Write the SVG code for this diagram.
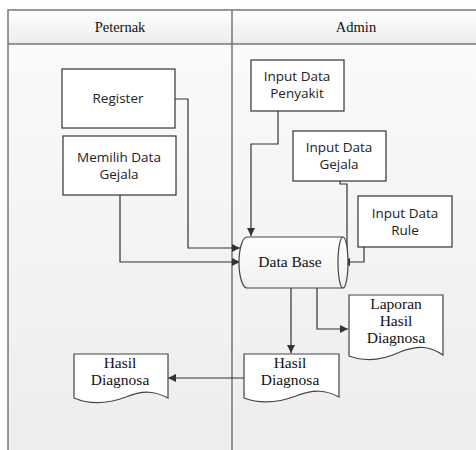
<svg xmlns="http://www.w3.org/2000/svg" width="476" height="450" viewBox="0 0 476 450">
<defs>
<linearGradient id="lane" x1="0" y1="0" x2="0" y2="1"><stop offset="0" stop-color="#fafafa"/><stop offset="1" stop-color="#ededed"/></linearGradient>
<linearGradient id="head" x1="0" y1="0" x2="0" y2="1"><stop offset="0" stop-color="#ffffff"/><stop offset="1" stop-color="#ececec"/></linearGradient>
<linearGradient id="cyl" x1="0" y1="0" x2="0" y2="1"><stop offset="0" stop-color="#ffffff"/><stop offset="1" stop-color="#f0f0f0"/></linearGradient>
<marker id="arr" viewBox="0 0 10 10" refX="10" refY="5" markerWidth="8" markerHeight="8" markerUnits="userSpaceOnUse" orient="auto"><path d="M0,0 L10,5 L0,10 z" fill="#333"/></marker>
<style>
.lane{fill:url(#lane);stroke:none}
.border{stroke:#777;stroke-width:1.5;fill:none}
.box{fill:#fff;stroke:#333;stroke-width:1.2}
.doc{fill:#fff;stroke:#444;stroke-width:1.2}
.conn{fill:none;stroke:#333;stroke-width:1.2}
.sans{font-family:"Open Sans","Liberation Sans",sans-serif;font-size:13.5px;fill:#222;text-anchor:middle}
.serif{font-family:"Liberation Serif","Times New Roman",serif;font-size:15.5px;fill:#111;text-anchor:middle}
</style>
</defs>
<rect x="0" y="0" width="476" height="450" fill="#fff"/>
<g id="pool">
<rect class="lane" x="8" y="44" width="468" height="406"/>
<rect x="8" y="10" width="468" height="34" fill="url(#head)"/>
<path class="border" d="M476,10 H8 V450 M8,44 H476 M232,10 V450"/>
<text class="serif" x="120" y="32" style="font-size:14.5px">Peternak</text>
<text class="serif" x="356" y="32" style="font-size:14.5px">Admin</text>
</g>
<g id="connectors">
<path class="conn" d="M175,99 H188 V248 H240" marker-end="url(#arr)"/>
<path class="conn" d="M120,195 V262 H240" marker-end="url(#arr)"/>
<path class="conn" d="M278,111 V144 H251 V236" marker-end="url(#arr)"/>
<path class="conn" d="M340,181 V184 H347 V255"/>
<path class="conn" d="M364,247 V262 H342" marker-end="url(#arr)"/>
<path class="conn" d="M291,288 V353" marker-end="url(#arr)"/>
<path class="conn" d="M317,288 V329 H348" marker-end="url(#arr)"/>
<path class="conn" d="M244,378 H168" marker-end="url(#arr)"/>
</g>
<g id="register">
<rect class="box" x="62" y="69" width="113" height="59"/>
<text class="sans" x="118" y="103">Register</text>
</g>
<g id="memilih">
<rect class="box" x="63" y="136" width="113" height="59"/>
<text class="sans" x="119" y="162">Memilih Data</text>
<text class="sans" x="119" y="179">Gejala</text>
</g>
<g id="penyakit">
<rect class="box" x="251" y="60" width="93" height="51"/>
<text class="sans" x="297" y="81">Input Data</text>
<text class="sans" x="297" y="98">Penyakit</text>
</g>
<g id="gejala">
<rect class="box" x="293" y="131" width="93" height="50"/>
<text class="sans" x="339" y="152">Input Data</text>
<text class="sans" x="339" y="169">Gejala</text>
</g>
<g id="rule">
<rect class="box" x="358" y="196" width="94" height="51"/>
<text class="sans" x="405" y="218">Input Data</text>
<text class="sans" x="405" y="235">Rule</text>
</g>
<g id="database">
<path d="M247,237 H343 A5,25.5 0 0 1 343,288 H247 A8,25.5 0 0 1 247,237 Z" fill="url(#cyl)" stroke="#444" stroke-width="1.2"/>
<path d="M343,237 A5,25.5 0 0 0 343,288" fill="none" stroke="#444" stroke-width="1.2"/>
<text class="serif" x="290" y="267">Data Base</text>
</g>
<g id="laporan">
<path class="doc" d="M349,295 H443 V355 C430,346 418,345 400,352 C385,359 368,363 349,356 Z"/>
<text class="serif" x="396" y="309">Laporan</text>
<text class="serif" x="396" y="326">Hasil</text>
<text class="serif" x="396" y="343">Diagnosa</text>
</g>
<g id="hasil-admin">
<path class="doc" d="M244,354 H339 V397 C326,390 314,389 296,396 C280,402 263,405 244,398 Z"/>
<text class="serif" x="290" y="368">Hasil</text>
<text class="serif" x="290" y="385">Diagnosa</text>
</g>
<g id="hasil-peternak">
<path class="doc" d="M74,354 H168 V398 C155,391 143,390 126,397 C110,403 93,406 74,398 Z"/>
<text class="serif" x="120" y="368">Hasil</text>
<text class="serif" x="120" y="385">Diagnosa</text>
</g>
</svg>
